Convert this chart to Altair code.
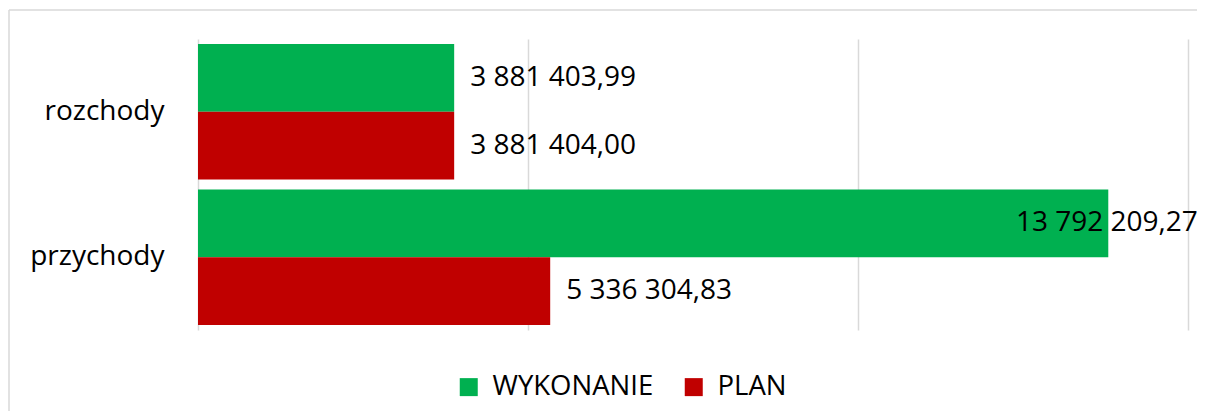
import altair as alt
import pandas as pd

categories = ["rozchody", "przychody"]
series = ["WYKONANIE", "PLAN"]
wykonanie = [3881403.99, 13792209.27]
plan = [3881404.00, 5336304.83]
colors = ["#00B050", "#C00000"]
grid_values = [0, 5000000, 10000000, 15000000]
title_text = "Wykres 11. Wykonanie przychodów i rozchodów budżetu Miasta i Gminy Piwniczna-Zdrój"


def fmt(v):
    return f"{v:,.2f}".replace(",", " ").replace(".", ",")


rows = []
for i, c in enumerate(categories):
    rows.append({"category": c, "series": series[0], "value": wykonanie[i], "label": fmt(wykonanie[i])})
    rows.append({"category": c, "series": series[1], "value": plan[i], "label": fmt(plan[i])})
df = pd.DataFrame(rows)

FONT = "Open Sans"

base = alt.Chart(df).encode(
    y=alt.Y(
        "category:N",
        sort=categories,
        scale=alt.Scale(paddingInner=0.07, paddingOuter=0.035),
        axis=alt.Axis(
            title=None, ticks=False, domain=False, grid=False, labelFont=FONT,
            labelFontSize=28, labelColor="black", labelPadding=34,
        ),
    ),
    yOffset=alt.YOffset("series:N", sort=series, scale=alt.Scale(paddingInner=0, paddingOuter=0)),
)

bars = base.mark_bar().encode(
    x=alt.X(
        "value:Q",
        scale=alt.Scale(domain=[0, 15000000], nice=False),
        axis=alt.Axis(
            title=None, labels=False, ticks=False, domain=False, values=grid_values,
            grid=True, gridColor="#d9d9d9", gridWidth=1.5,
        ),
    ),
    color=alt.Color(
        "series:N",
        sort=series,
        scale=alt.Scale(domain=series, range=colors),
        legend=alt.Legend(
            orient="none", legendX=257, legendY=334, direction="horizontal", title=None,
            symbolType="square", symbolSize=324, symbolStrokeWidth=0, symbolOpacity=1,
            labelFont=FONT, labelFontSize=27.5, labelColor="black", labelOffset=10,
            labelLimit=400, columnPadding=26,
        ),
    ),
)

labels = base.transform_calculate(
    lx="min(datum.value, 12150000)"
).mark_text(
    align="left", baseline="middle", dx=16, font=FONT, fontSize=28, color="black"
).encode(
    x=alt.X("lx:Q"),
    text="label:N",
)

frame_df = pd.DataFrame({"k": [0]})
left_line = alt.Chart(frame_df).mark_rule(color="#d9d9d9", strokeWidth=1.5).encode(
    x=alt.value(-189), y=alt.value(-29), y2=alt.value(400)
)
top_line = alt.Chart(frame_df).mark_rule(color="#d9d9d9", strokeWidth=1.5).encode(
    x=alt.value(-189), x2=alt.value(1100), y=alt.value(-29)
)

chart = alt.layer(bars, labels, left_line, top_line).properties(
    width=990,
    height=291,
    padding={"left": 190, "top": 31, "right": 9, "bottom": 81},
    autosize=alt.AutoSizeParams(type="none"),
    title=alt.TitleParams(
        text=title_text, font=FONT, fontSize=26, fontStyle="italic", fontWeight="normal",
        color="black", anchor="start", frame="group", dx=-158, offset=30, baseline="bottom",
    ),
).configure(background="white").configure_view(stroke=None)

chart.save("out.html", embed_options={"renderer": "svg", "actions": False})
